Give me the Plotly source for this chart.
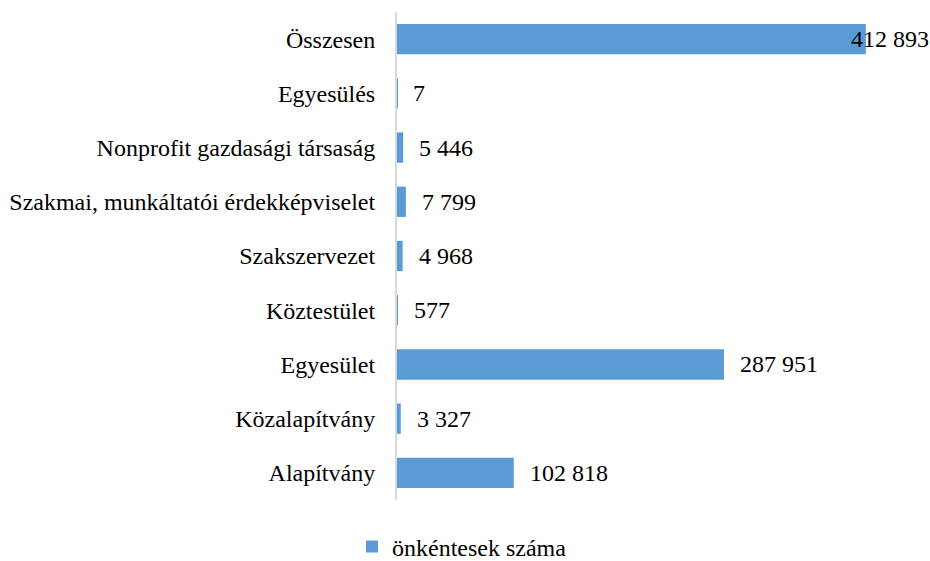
import plotly.graph_objects as go

categories = ["Alapítvány", "Közalapítvány", "Egyesület", "Köztestület", "Szakszervezet",
              "Szakmai, munkáltatói érdekképviselet", "Nonprofit gazdasági társaság",
              "Egyesülés", "Összesen"]
values = [102818, 3327, 287951, 577, 4968, 7799, 5446, 7, 412893]
series_name = "önkéntesek száma"

FONT = "Liberation Serif, Times New Roman, serif"
BAR = "#5B9BD5"
FS = 24

W, H = 930, 561
L, R, T, B = 397, 22, 12, 61
PW = W - L - R
PH = H - T - B

def fmt(v):
    return f"{v:,}".replace(",", " ")

fig = go.Figure()
fig.add_trace(go.Bar(
    y=categories, x=values, orientation="h",
    marker=dict(color=BAR, line=dict(width=0)),
    name=series_name, showlegend=True,
))

for c, v in zip(categories, values):
    last = (v == max(values))
    fig.add_annotation(
        x=v, y=c, xref="x", yref="y",
        text=fmt(v), showarrow=False,
        xanchor="left", yanchor="middle",
        xshift=-17 if last else 14,
        font=dict(family=FONT, size=FS, color="#000000"),
    )

fig.update_layout(
    width=W, height=H,
    margin=dict(l=L, r=R, t=T, b=B, autoexpand=False),
    paper_bgcolor="white", plot_bgcolor="white",
    bargap=0.44,
    font=dict(family=FONT, size=FS, color="#000000"),
    showlegend=True,
    legend=dict(orientation="h", x=(352 - L) / PW, xanchor="left",
                y=(PH - (547 - T)) / PH, yanchor="middle",
                font=dict(family=FONT, size=FS, color="#000000"),
                itemwidth=30, itemsizing="constant"),
)
fig.update_xaxes(range=[0, 450000], showgrid=False, zeroline=False,
                 showticklabels=False, showline=False, ticks="", automargin=False)
fig.update_yaxes(showgrid=False, zeroline=False, showline=True, linecolor="#D9D9D9",
                 linewidth=2, ticks="", ticklabelstandoff=15, automargin=False,
                 tickfont=dict(family=FONT, size=FS, color="#000000"))

fig.write_html(
    "out.html",
    config={"displayModeBar": False},
    post_script=("document.documentElement.style.overflow='hidden';"
                 "document.body.style.overflow='hidden';"
                 "document.body.style.margin='0';"),
)
